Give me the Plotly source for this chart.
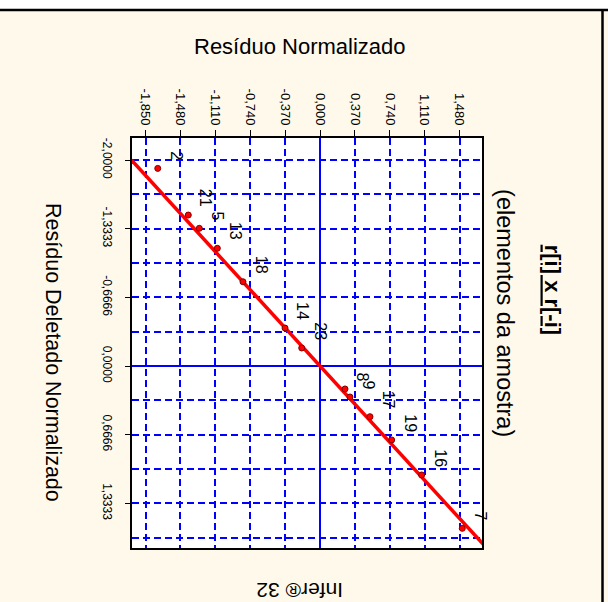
import plotly.graph_objects as go

# ---- data ----
point_ids = ["2", "21", "5", "13", "18", "14", "23", "8", "9", "17", "19", "16", "7"]
res_norm = [-1.721, -1.397, -1.280, -1.089, -0.817, -0.371, -0.194, 0.265, 0.318, 0.530, 0.760, 1.078, 1.509]
res_del = [-1.919, -1.466, -1.337, -1.143, -0.818, -0.369, -0.175, 0.223, 0.301, 0.492, 0.718, 1.058, 1.576]

ref_x = [-2.0, 2.0]
ref_y = [-2.0, 2.0]

x_ticks = [-1.85, -1.48, -1.11, -0.74, -0.37, 0.0, 0.37, 0.74, 1.11, 1.48]
x_labels = ["-1,850", "-1,480", "-1,110", "-0,740", "-0,370", "0,000", "0,370", "0,740", "1,110", "1,480"]
y_ticks = [-2.0, -1.3333, -0.6666, 0.0, 0.6666, 1.3333]
y_labels = ["-2,0000", "-1,3333", "-0,6666", "0,0000", "0,6666", "1,3333"]

CREAM = "#FFF9EC"
BLUE = "#0000FF"
FONT = "Liberation Sans, Arial, sans-serif"
DASH = "7px,4px"

fig = go.Figure()
fig.add_trace(go.Scatter(x=ref_x, y=ref_y, mode="lines",
                         line=dict(color="#FF0000", width=3.5), hoverinfo="skip"))
fig.add_trace(go.Scatter(x=res_norm, y=res_del, mode="markers",
                         marker=dict(color="#FF0000", size=6, line=dict(color="#800000", width=1))))

for pid, xv, yv in zip(point_ids, res_norm, res_del):
    fig.add_annotation(x=xv, y=yv, xref="x", yref="y", text=pid, showarrow=False,
                       textangle=90, xanchor="center", yanchor="bottom",
                       xshift=18, yshift=6, font=dict(family=FONT, size=16, color="black"))

def title(text, x, y, angle, size, **font_extra):
    fig.add_annotation(xref="paper", yref="paper", x=x, y=y, text=text, showarrow=False,
                       textangle=angle, xanchor="center", yanchor="middle",
                       font=dict(family=FONT, size=size, color="black", **font_extra))

title("Resíduo Normalizado", 0.48, 1.222, 0, 22)
title("Resíduo Deletado Normalizado", -0.2257, 0.478, 90, 21.5)
title("(elementos da amostra)", 1.0657, 0.573, 90, 23.5)
title("r[i] x r[-i]", 1.2, 0.63, 90, 22, weight="bold", lineposition="under")
title("Infer® 32", 0.48, -0.105, 180, 21)

# window frame pieces
fig.add_shape(type="rect", xref="paper", yref="paper", x0=-0.38, x1=1.37, y0=1.3146, y1=1.34,
              fillcolor="white", line=dict(width=0), layer="above")
fig.add_shape(type="line", xref="paper", yref="paper", x0=-0.38, x1=1.37, y0=1.3122, y1=1.3122,
              line=dict(color="black", width=2.5), layer="above")
fig.add_shape(type="line", xref="paper", yref="paper", x0=1.3443, x1=1.3443, y0=1.3122, y1=-0.14,
              line=dict(color="black", width=2.5), layer="above")

fig.update_layout(
    width=608, height=602,
    margin=dict(l=132, r=126, t=138, b=54),
    paper_bgcolor=CREAM, plot_bgcolor="white",
    showlegend=False,
    font=dict(family=FONT, color="black"),
    xaxis=dict(side="top", range=[-1.994, 1.718], tickmode="array", tickvals=x_ticks, ticktext=x_labels,
               tickangle=90, ticks="outside", ticklen=6, tickcolor="black", tickwidth=1,
               tickfont=dict(family=FONT, size=13, color="black"),
               showline=True, linecolor="black", linewidth=2, mirror=True,
               showgrid=True, gridcolor=BLUE, gridwidth=1.5, griddash=DASH,
               zeroline=True, zerolinecolor=BLUE, zerolinewidth=2),
    yaxis=dict(range=[1.767, -2.214], tickmode="array", tickvals=y_ticks, ticktext=y_labels,
               tickangle=90, ticks="outside", ticklen=5, tickcolor="black", tickwidth=1,
               ticklabelstandoff=8,
               tickfont=dict(family=FONT, size=12, color="black"),
               showline=True, linecolor="black", linewidth=2, mirror=True,
               showgrid=True, gridcolor=BLUE, gridwidth=1.5, griddash=DASH,
               minor=dict(tick0=-2, dtick=1/3, showgrid=True, gridcolor=BLUE, gridwidth=1.5,
                          griddash=DASH, ticks=""),
               zeroline=True, zerolinecolor=BLUE, zerolinewidth=2),
)

fig.write_html("out.html")
